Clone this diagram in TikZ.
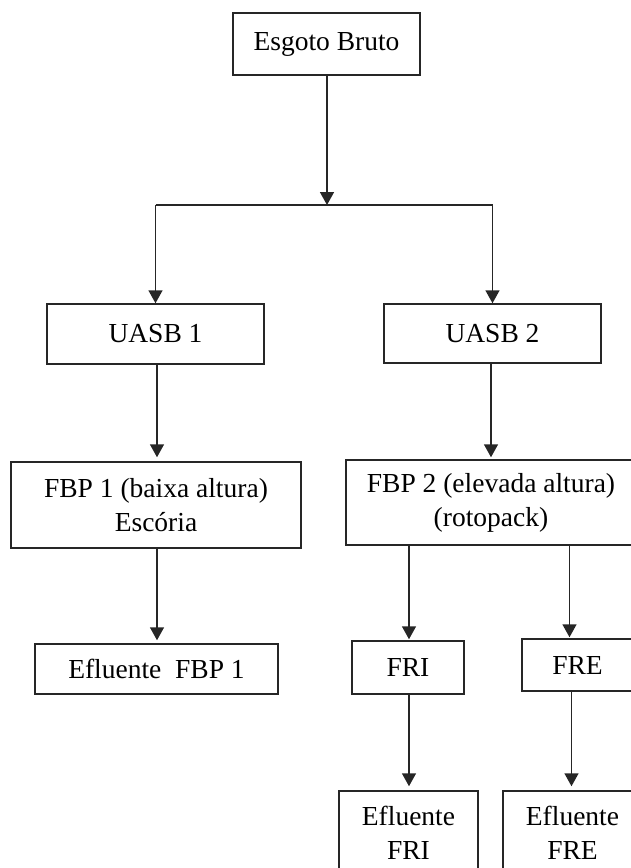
\documentclass[tikz,border=0pt]{standalone}
\usepackage{fontspec}
\setmainfont{Liberation Serif}
\usetikzlibrary{arrows.meta}
\begin{document}
\begin{tikzpicture}[x=1pt,y=-1pt,
  box/.style={draw=black!85, line width=1.5pt, rectangle, inner sep=0pt,
    align=center, font=\fontsize{27.5pt}{34pt}\selectfont},
  arr/.style={draw=black!85, line width=1.5pt,
    -{Triangle[width=14pt,length=13pt]}},
  link/.style={draw=black!85, line width=1.5pt}]
\useasboundingbox (0,0) rectangle (631,868);
\clip (0,0) rectangle (631,868);

% process boxes
\node[box, minimum width=187pt, minimum height=62pt] (esgoto) at (326.5,44) {Esgoto Bruto};
\node[box, minimum width=217pt, minimum height=60pt] (uasb1) at (155.5,334) {UASB 1};
\node[box, minimum width=217pt, minimum height=59pt] (uasb2) at (492.5,333.5) {UASB 2};
\node[box, minimum width=290pt, minimum height=86pt] (fbp1) at (156,505) {FBP 1 (baixa altura)\\Escória};
\node[box, minimum width=290pt, minimum height=85pt] (fbp2) at (491,502.5) {FBP 2 (elevada altura)\\(rotopack)};
\node[box, minimum width=243pt, minimum height=50pt] (ef1) at (156.5,669) {Efluente\ \ FBP 1};
\node[box, minimum width=112pt, minimum height=53pt] (fri) at (408,667.5) {FRI};
\node[box, minimum width=111pt, minimum height=52pt] (fre) at (577.5,665) {FRE};
\node[box, minimum width=139pt, minimum height=83pt] (effri) at (408.5,832.5) {Efluente\\FRI};
\node[box, minimum width=139pt, minimum height=83pt] (effre) at (572.5,832.5) {Efluente\\FRE};

% split of the raw sewage into the two lines
\coordinate (split) at (327,205);
\draw[arr] (esgoto.south -| split) -- (split);
\draw[link] (uasb1.north |- split) -- (uasb2.north |- split);
\draw[arr] (uasb1.north |- split) -- (uasb1.north);
\draw[arr] (uasb2.north |- split) -- (uasb2.north);

% line 1
\draw[arr, shorten >=4pt] ([xshift=1.5pt]uasb1.south) -- ([xshift=1.5pt]uasb1.south |- fbp1.north);
\draw[arr, shorten >=3pt] ([xshift=1pt]fbp1.south) -- ([xshift=1pt]fbp1.south |- ef1.north);

% line 2
\draw[arr, shorten >=2pt] ([xshift=-1.5pt]uasb2.south) -- ([xshift=-1.5pt]uasb2.south |- fbp2.north);
\draw[arr, shorten >=1pt] ([xshift=1pt]fri.north |- fbp2.south) -- ([xshift=1pt]fri.north);
\draw[arr, shorten >=1pt] ([xshift=-8pt]fre.north |- fbp2.south) -- ([xshift=-8pt]fre.north);
\draw[arr, shorten >=4pt] ([xshift=1pt]fri.south) -- ([xshift=1pt]fri.south |- effri.north);
\draw[arr, shorten >=4pt] ([xshift=-6pt]fre.south) -- ([xshift=-6pt]fre.south |- effre.north);
\end{tikzpicture}
\end{document}
